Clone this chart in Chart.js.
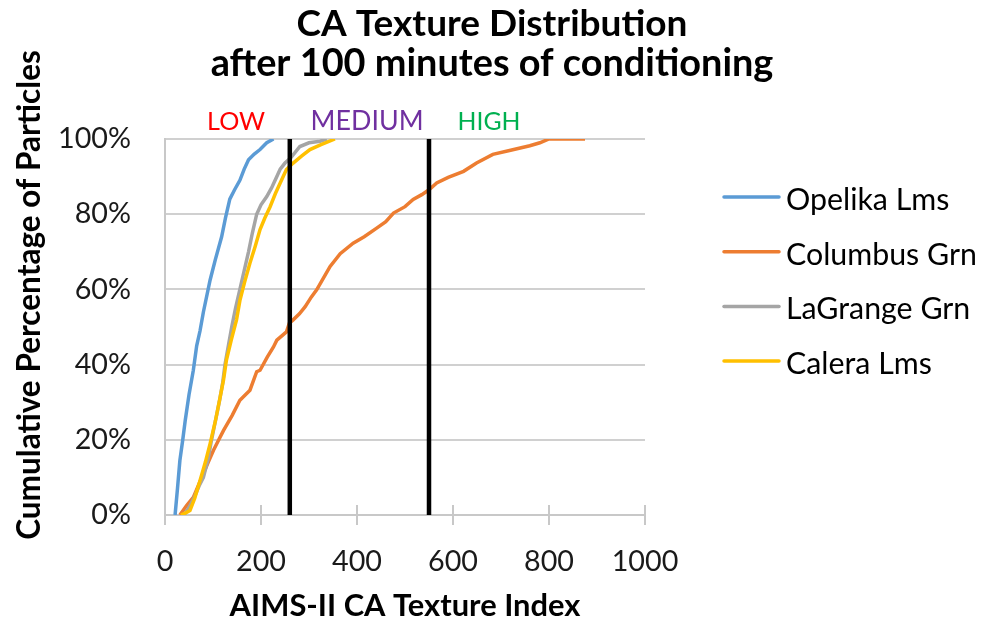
<!DOCTYPE html>
<html>
<head>
<meta charset="utf-8">
<script src="https://cdn.jsdelivr.net/npm/chart.js@4.4.1/dist/chart.umd.min.js"></script>
<style>
  body { margin: 0; background: #fff; }
  canvas { display: block; }
</style>
</head>
<body>
<canvas id="myChart" width="984" height="628" style="width:984px;height:628px"></canvas>
<script>
// series: texture index (x) vs cumulative % (y)
const seriesNames = ['Opelika Lms', 'Columbus Grn', 'LaGrange Grn', 'Calera Lms'];
const seriesColors = ['#5B9BD5', '#ED7D31', '#A5A5A5', '#FFC000'];

const opelikaX = [21, 26, 31, 37, 42, 50, 59, 66, 73, 80, 94, 105, 118, 126, 135, 145, 156, 165, 174, 186, 198, 212, 226];
const opelikaY = [0, 7, 14.5, 20, 25, 32, 38.5, 45, 49, 54, 62.5, 68, 74, 79, 84, 86.5, 89, 92, 94.5, 96, 97.2, 99, 100];

const columbusX = [31, 45, 59, 70, 80, 90, 101, 112, 122, 140, 156, 177, 191, 198, 213, 226, 233, 253, 259, 267, 280, 292, 305, 316, 330, 344, 365, 392, 415, 441, 460, 476, 500, 517, 535, 550, 566, 590, 622, 649, 683, 720, 760, 781, 800, 875];
const columbusY = [0, 2.5, 4.7, 8, 11, 14, 17.2, 20, 22.5, 26.5, 30.5, 33.2, 38.1, 38.5, 42, 44.7, 46.5, 48.7, 51, 51.9, 53.5, 55.4, 58, 59.9, 63, 66.1, 69.5, 72.3, 74, 76.3, 78, 80.3, 82, 83.9, 85.2, 86.5, 88.3, 89.8, 91.4, 93.6, 95.9, 97, 98.2, 99, 100, 100];

const lagrangeX = [40, 50, 62, 72, 80, 90, 97, 105, 113, 120, 125, 132, 139, 147, 156, 165, 174, 182, 191, 200, 212, 222, 233, 240, 250, 262, 281, 300, 323, 337];
const lagrangeY = [0, 2, 5, 8, 10, 15, 20, 25, 30, 35, 40, 45, 50, 55, 60, 65, 70, 75, 80, 82.5, 84.7, 87, 90, 92, 93.6, 95, 98, 99, 99.4, 100];

const caleraX = [33, 42, 52, 62, 73, 84, 94, 105, 115, 122, 128, 138, 149, 156, 166, 177, 188, 198, 208, 219, 230, 240, 253, 267, 285, 302, 325, 354];
const caleraY = [0, 0.5, 1.2, 4.5, 9.2, 14, 19, 25, 31.4, 36, 41.2, 46.5, 51.9, 57, 62, 67, 71.5, 75.9, 79, 82, 85.5, 88.3, 91.9, 93.6, 95.5, 97.2, 98.5, 100];

// class boundaries and labels
const boundaries = [260, 550];
const zoneLabels = ['LOW', 'MEDIUM', 'HIGH'];
const zoneX = [148, 421, 675];
const zoneColors = ['#FF0000', '#7030A0', '#00B050'];

const xTicks = [0, 200, 400, 600, 800, 1000];
const yTicks = [0, 20, 40, 60, 80, 100];

const titleLines = ['CA Texture Distribution', 'after 100 minutes of conditioning'];
const xTitle = 'AIMS-II CA Texture Index';
const yTitle = 'Cumulative Percentage of Particles';

const FONT = 'Lato, "Noto Sans", sans-serif';

function toPoints(xs, ys) {
  return xs.map((x, i) => ({ x: x, y: ys[i] }));
}

// size a font so the text spans a given width
const measureCtx = document.createElement('canvas').getContext('2d');
function fitSize(text, weight, target) {
  measureCtx.font = weight + ' 100px ' + FONT;
  return 100 * target / measureCtx.measureText(text).width;
}

const tickSize = fitSize('100%', 'normal', 73);

var ctx = document.getElementById('myChart');

const allX = [opelikaX, columbusX, lagrangeX, caleraX];
const allY = [opelikaY, columbusY, lagrangeY, caleraY];
const drawOrder = [4, 3, 2, 1]; // Calera on top, like the original

const datasets = [];
boundaries.forEach(b => {
  datasets.push({
    label: 'boundary',
    data: [{ x: b, y: 0 }, { x: b, y: 100 }],
    borderColor: '#000',
    borderWidth: 4.5,
    pointRadius: 0,
    showLine: true,
    order: 0
  });
});
for (let i = 0; i < seriesNames.length; i++) {
  datasets.push({
    label: seriesNames[i],
    data: toPoints(allX[i], allY[i]),
    borderColor: seriesColors[i],
    backgroundColor: seriesColors[i],
    borderWidth: 3.5,
    pointRadius: 0,
    showLine: true,
    tension: 0,
    order: drawOrder[i]
  });
}

const overlay = {
  id: 'overlay',
  afterDraw(chart) {
    const c = chart.ctx;
    const xs = chart.scales.x;
    const area = chart.chartArea;
    c.save();

    // x tick marks cross the axis
    c.strokeStyle = '#c8c8c8';
    c.lineWidth = 2;
    xTicks.forEach(v => {
      const px = Math.round(xs.getPixelForValue(v));
      c.beginPath();
      c.moveTo(px, area.bottom - 10);
      c.lineTo(px, area.bottom);
      c.stroke();
    });

    c.fillStyle = '#000';
    c.textAlign = 'center';
    c.textBaseline = 'alphabetic';

    // title
    c.font = 'bold ' + fitSize(titleLines[0], 'bold', 391) + 'px ' + FONT;
    c.fillText(titleLines[0], 492, 36);
    c.font = 'bold ' + fitSize(titleLines[1], 'bold', 563) + 'px ' + FONT;
    c.fillText(titleLines[1], 492, 76);

    // zone labels
    zoneLabels.forEach((t, i) => {
      c.font = fitSize(t, 'normal', [58, 113, 63][i]) + 'px ' + FONT;
      c.fillStyle = zoneColors[i];
      c.fillText(t, xs.getPixelForValue(zoneX[i]), 130);
    });

    // axis titles
    c.fillStyle = '#000';
    c.font = 'bold ' + fitSize(xTitle, 'bold', 351) + 'px ' + FONT;
    c.fillText(xTitle, (area.left + area.right) / 2, 616);
    c.save();
    c.translate(40, 295);
    c.rotate(-Math.PI / 2);
    c.font = 'bold ' + fitSize(yTitle, 'bold', 490) + 'px ' + FONT;
    c.fillText(yTitle, 0, 0);
    c.restore();

    // legend
    const legSize = fitSize('Columbus Grn', 'normal', 191);
    c.font = legSize + 'px ' + FONT;
    c.textAlign = 'left';
    seriesNames.forEach((n, i) => {
      const y = 197 + i * 54.7;
      c.strokeStyle = seriesColors[i];
      c.lineWidth = 3.5;
      c.lineCap = 'round';
      c.beginPath();
      c.moveTo(724, y);
      c.lineTo(779, y);
      c.stroke();
      c.fillStyle = '#000';
      c.fillText(n, 786, y + 13);
    });
    c.restore();
  }
};

var myChart = new Chart(ctx, {
  type: 'scatter',
  data: { datasets: datasets },
  options: {
    responsive: false,
    animation: false,
    layout: { padding: { top: 139, right: 339, bottom: 0, left: 0 } },
    plugins: {
      legend: { display: false },
      title: { display: false },
      tooltip: { enabled: false }
    },
    scales: {
      x: {
        type: 'linear',
        min: 0,
        max: 1000,
        afterBuildTicks: s => { s.ticks = xTicks.map(v => ({ value: v })); },
        ticks: { color: '#1a1a1a', font: { family: FONT, size: tickSize }, padding: 20, maxRotation: 0, callback: v => String(v) },
        grid: { drawOnChartArea: false, drawTicks: true, tickLength: 10, color: '#c8c8c8', lineWidth: 2 },
        border: { color: '#c8c8c8', width: 2 },
        afterFit: s => { s.height = 628 - 515; }
      },
      y: {
        min: 0,
        max: 100,
        afterBuildTicks: s => { s.ticks = yTicks.map(v => ({ value: v })); },
        ticks: { color: '#1a1a1a', font: { family: FONT, size: tickSize }, padding: 34, callback: v => v + '%' },
        grid: { drawTicks: false, color: '#d0d0d0', lineWidth: 2 },
        border: { color: '#c8c8c8', width: 2 },
        afterFit: s => { s.width = 165; }
      }
    }
  },
  plugins: [overlay]
});
</script>
</body>
</html>
